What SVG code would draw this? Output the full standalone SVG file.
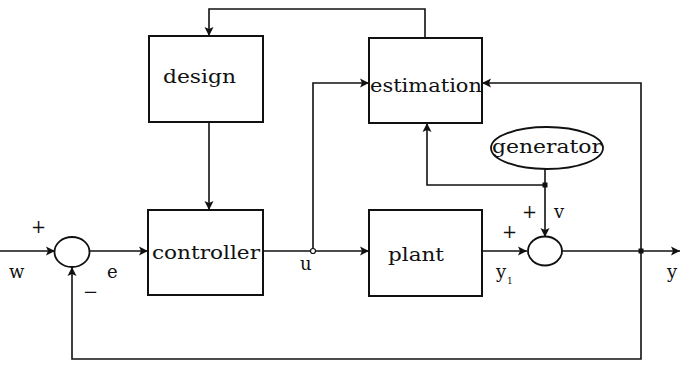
<svg xmlns="http://www.w3.org/2000/svg" width="680" height="365" viewBox="0 0 680 365">
<style>
.box{fill:#fff;stroke:#111;stroke-width:2}
.sum{fill:#fff;stroke:#111;stroke-width:1.8}
.ln{fill:none;stroke:#111;stroke-width:1.6}
.lbl{font-family:"DejaVu Serif","Liberation Serif",serif;font-size:19px;fill:#111}
.sm{font-family:"DejaVu Serif","Liberation Serif",serif;font-size:18px;fill:#111}
.dot{fill:#111}
</style>
<defs>
<marker id="ah" markerWidth="12" markerHeight="12" refX="10" refY="6" orient="auto" markerUnits="userSpaceOnUse">
<path d="M1,1.5 L10,6 L1,10.5 L3,6 Z" fill="#111"/>
</marker>
</defs>
<rect width="680" height="365" fill="#fff"/>
<g id="connectors">
<path class="ln" d="M0,251 H55" marker-end="url(#ah)"/>
<path class="ln" d="M90,251 H148" marker-end="url(#ah)"/>
<path class="ln" d="M263,251 H369" marker-end="url(#ah)"/>
<path class="ln" d="M313,251 V83 H369" marker-end="url(#ah)"/>
<path class="ln" d="M482,251 H527" marker-end="url(#ah)"/>
<path class="ln" d="M562,251 H680" marker-end="url(#ah)"/>
<path class="ln" d="M641,251 V359 H72 V267" marker-end="url(#ah)"/>
<path class="ln" d="M641,251 V83 H482" marker-end="url(#ah)"/>
<path class="ln" d="M425,38 V9 H209 V36" marker-end="url(#ah)"/>
<path class="ln" d="M209,122 V210" marker-end="url(#ah)"/>
<path class="ln" d="M545,169 V237" marker-end="url(#ah)"/>
<path class="ln" d="M545,185 H427 V123" marker-end="url(#ah)"/>
<circle cx="313" cy="251" r="2.5" fill="#fff" stroke="#111" stroke-width="1.2"/>
<rect class="dot" x="638.5" y="248.5" width="5" height="5"/>
<rect class="dot" x="542.5" y="182.5" width="5" height="5"/>
</g>
<g id="sum1">
<ellipse class="sum" cx="72" cy="252" rx="17.5" ry="15"/>
</g>
<g id="sum2">
<ellipse class="sum" cx="545" cy="251" rx="17" ry="14.5"/>
</g>
<g id="design">
<rect class="box" x="149" y="36" width="114" height="86"/>
<text class="lbl" x="163" y="83" textLength="73" lengthAdjust="spacingAndGlyphs">design</text>
</g>
<g id="estimation">
<rect class="box" x="369" y="38" width="113" height="85"/>
<text class="lbl" x="370" y="92" textLength="112" lengthAdjust="spacingAndGlyphs">estimation</text>
</g>
<g id="controller">
<rect class="box" x="148" y="210" width="115" height="85"/>
<text class="lbl" x="152" y="259" textLength="108" lengthAdjust="spacingAndGlyphs">controller</text>
</g>
<g id="plant">
<rect class="box" x="369" y="210" width="113" height="86"/>
<text class="lbl" x="388" y="261" textLength="56" lengthAdjust="spacingAndGlyphs">plant</text>
</g>
<g id="generator">
<ellipse class="sum" cx="547" cy="148" rx="56" ry="21"/>
<text class="lbl" x="492" y="153" textLength="110" lengthAdjust="spacingAndGlyphs">generator</text>
</g>
<g id="labels">
<text class="sm" x="31" y="233">+</text>
<text class="sm" x="9" y="278">w</text>
<text class="sm" x="107" y="278">e</text>
<text class="sm" x="83" y="298">−</text>
<text class="sm" x="300" y="270">u</text>
<text class="sm" x="502" y="238">+</text>
<text class="sm" x="522" y="218">+</text>
<text class="sm" x="554" y="218">v</text>
<text class="sm" x="496" y="278">y</text>
<text x="507" y="284" font-family="DejaVu Serif, serif" font-size="9" fill="#111">1</text>
<text class="sm" x="667" y="278">y</text>
</g>
</svg>
